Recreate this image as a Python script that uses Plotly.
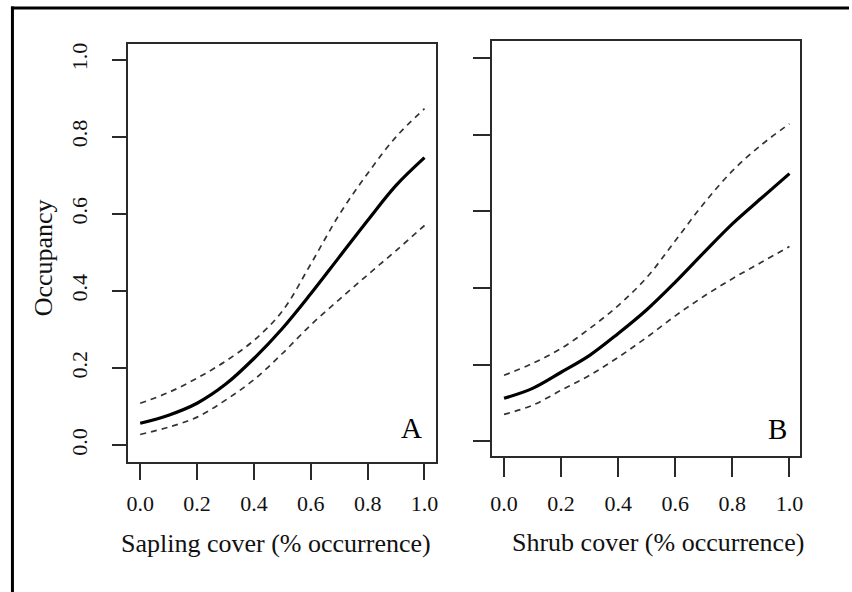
import plotly.graph_objects as go

W, H = 852, 592

# ---- data ----
cover = [0.0, 0.1, 0.2, 0.3, 0.4, 0.5, 0.6, 0.7, 0.8, 0.9, 1.0]

sapling_mean = [0.057, 0.078, 0.109, 0.158, 0.225, 0.303, 0.393, 0.488, 0.583, 0.674, 0.746]
sapling_upper = [0.109, 0.137, 0.174, 0.218, 0.272, 0.348, 0.470, 0.598, 0.705, 0.800, 0.873]
sapling_lower = [0.028, 0.047, 0.073, 0.117, 0.170, 0.238, 0.312, 0.378, 0.442, 0.505, 0.570]

shrub_mean = [0.112, 0.138, 0.180, 0.224, 0.281, 0.343, 0.415, 0.492, 0.567, 0.633, 0.698]
shrub_upper = [0.172, 0.203, 0.242, 0.294, 0.354, 0.427, 0.523, 0.620, 0.705, 0.772, 0.828]
shrub_lower = [0.070, 0.094, 0.133, 0.172, 0.219, 0.271, 0.327, 0.378, 0.424, 0.466, 0.508]

tick_vals = [0.0, 0.2, 0.4, 0.6, 0.8, 1.0]
tick_text = ["0.0", "0.2", "0.4", "0.6", "0.8", "1.0"]

FONT = "Liberation Serif"
BOX = "#2a2a2a"
DASH = "#333333"


def px_x(p):
    return p / W


def px_y(p):
    return 1 - p / H


fig = go.Figure()

for xa, ya, mean, up, lo in [("x", "y", sapling_mean, sapling_upper, sapling_lower),
                             ("x2", "y2", shrub_mean, shrub_upper, shrub_lower)]:
    for vals, width, dash, color in [(up, 1.7, "6px,5px", DASH),
                                     (lo, 1.7, "6px,5px", DASH),
                                     (mean, 3.2, "solid", "black")]:
        fig.add_trace(go.Scatter(x=cover, y=vals, mode="lines", xaxis=xa, yaxis=ya,
                                 line=dict(color=color, width=width, dash=dash, shape="spline"),
                                 showlegend=False, hoverinfo="skip"))

axis_common = dict(showgrid=False, zeroline=False, showline=True, mirror=True,
                   linecolor=BOX, linewidth=2, ticks="outside", tickcolor=BOX, tickwidth=2,
                   tickvals=tick_vals, ticktext=tick_text,
                   tickfont=dict(family=FONT, size=22, color="#111111"))

fig.update_layout(
    width=W, height=H, margin=dict(l=0, r=0, t=0, b=0),
    paper_bgcolor="white", plot_bgcolor="white",
    xaxis=dict(axis_common, domain=[px_x(127), px_x(437)], range=[-0.042, 1.042],
               ticklen=16, ticklabelstandoff=4, anchor="y"),
    yaxis=dict(axis_common, domain=[px_y(462), px_y(43)], range=[-0.044, 1.041],
               ticklen=14, tickangle=-90, ticklabelstandoff=16, anchor="x"),
    xaxis2=dict(axis_common, domain=[px_x(493), px_x(803)], range=[-0.0418, 1.038],
                ticklen=19, ticklabelstandoff=7, anchor="y2"),
    yaxis2=dict(axis_common, domain=[px_y(456), px_y(40)], range=[-0.039, 1.044],
                ticklen=17, showticklabels=False, anchor="x2"),
    shapes=[
        dict(type="line", xref="paper", yref="paper", x0=px_x(10.5), x1=px_x(10.5),
             y0=px_y(5.5), y1=0, line=dict(color="black", width=3)),
        dict(type="line", xref="paper", yref="paper", x0=px_x(9), x1=1,
             y0=px_y(7), y1=px_y(7), line=dict(color="black", width=3)),
    ],
    annotations=[
        dict(text="Sapling cover (% occurrence)", xref="paper", yref="paper",
             x=px_x(276), y=px_y(543), xanchor="center", yanchor="middle", showarrow=False,
             font=dict(family=FONT, size=26, color="#111111")),
        dict(text="Shrub cover (% occurrence)", xref="paper", yref="paper",
             x=px_x(660), y=px_y(542), xanchor="center", yanchor="middle", showarrow=False,
             font=dict(family=FONT, size=26, color="#111111")),
        dict(text="Occupancy", xref="paper", yref="paper", textangle=-90,
             x=px_x(42), y=px_y(257), xanchor="center", yanchor="middle", showarrow=False,
             font=dict(family=FONT, size=26, color="#111111")),
        dict(text="A", xref="paper", yref="paper",
             x=px_x(412), y=px_y(428), xanchor="center", yanchor="middle", showarrow=False,
             font=dict(family=FONT, size=29, color="black")),
        dict(text="B", xref="paper", yref="paper",
             x=px_x(780), y=px_y(429), xanchor="center", yanchor="middle", showarrow=False,
             font=dict(family=FONT, size=29, color="black")),
    ],
)

fig.write_html("out.html")
